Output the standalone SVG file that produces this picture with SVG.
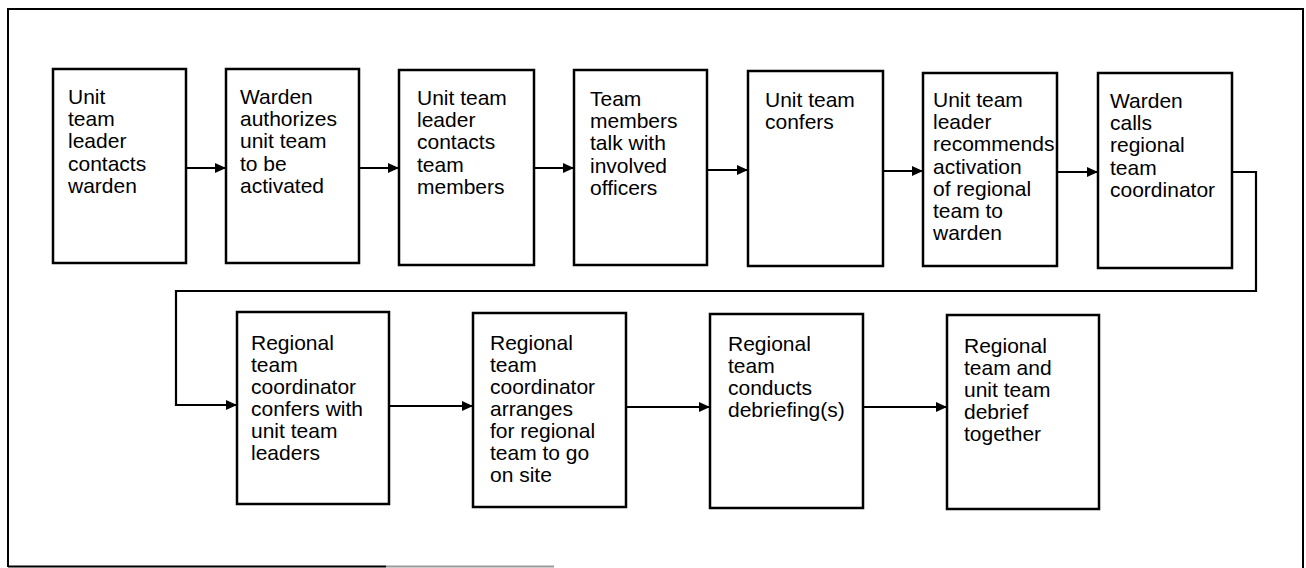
<svg xmlns="http://www.w3.org/2000/svg" width="1306" height="568" viewBox="0 0 1306 568">
<style>
  .box { fill: #fff; stroke: #000; stroke-width: 2.5; }
  .lbl { font-family: "Liberation Sans", Arial, Helvetica, sans-serif; font-size: 21px; fill: #000; }
  .conn { fill: none; stroke: #000; stroke-width: 2.2; }
  .frame { fill: none; stroke: #000; stroke-width: 2; }
</style>
<defs>
  <marker id="arr" markerUnits="userSpaceOnUse" markerWidth="11" markerHeight="10" refX="11" refY="5" orient="auto">
    <path d="M0,0 L11,5 L0,10 z" fill="#000"/>
  </marker>
</defs>
<rect width="1306" height="568" fill="#fff"/>
<g id="frame">
  <path class="frame" d="M8,567 V9 H1303 V568"/>
  <line x1="8" y1="566.5" x2="386" y2="566.5" stroke="#000" stroke-width="2"/>
  <line x1="386" y1="566.5" x2="554" y2="566.5" stroke="#999" stroke-width="2"/>
</g>
<g id="connectors">
  <path class="conn" d="M186,168 H226" marker-end="url(#arr)"/>
  <path class="conn" d="M359,168 H399" marker-end="url(#arr)"/>
  <path class="conn" d="M534,168 H574" marker-end="url(#arr)"/>
  <path class="conn" d="M707,170 H748" marker-end="url(#arr)"/>
  <path class="conn" d="M883,171 H923" marker-end="url(#arr)"/>
  <path class="conn" d="M1057,172 H1098" marker-end="url(#arr)"/>
  <path class="conn" d="M1232,172 H1256 V291 H176 V405 H237" marker-end="url(#arr)"/>
  <path class="conn" d="M389,406 H473" marker-end="url(#arr)"/>
  <path class="conn" d="M626,407 H710" marker-end="url(#arr)"/>
  <path class="conn" d="M863,407 H947" marker-end="url(#arr)"/>
</g>
<g id="n1">
  <rect class="box" x="53" y="69" width="133" height="194"/>
  <text class="lbl" x="68" y="104"><tspan x="68">Unit</tspan><tspan x="68" dy="22.2">team</tspan><tspan x="68" dy="22.2">leader</tspan><tspan x="68" dy="22.2">contacts</tspan><tspan x="68" dy="22.2">warden</tspan></text>
</g>
<g id="n2">
  <rect class="box" x="226" y="69" width="133" height="194"/>
  <text class="lbl" x="240" y="104"><tspan x="240">Warden</tspan><tspan x="240" dy="22.2">authorizes</tspan><tspan x="240" dy="22.2">unit team</tspan><tspan x="240" dy="22.2">to be</tspan><tspan x="240" dy="22.2">activated</tspan></text>
</g>
<g id="n3">
  <rect class="box" x="399" y="70" width="135" height="195"/>
  <text class="lbl" x="417" y="105"><tspan x="417">Unit team</tspan><tspan x="417" dy="22.2">leader</tspan><tspan x="417" dy="22.2">contacts</tspan><tspan x="417" dy="22.2">team</tspan><tspan x="417" dy="22.2">members</tspan></text>
</g>
<g id="n4">
  <rect class="box" x="574" y="70" width="133" height="195"/>
  <text class="lbl" x="590" y="106"><tspan x="590">Team</tspan><tspan x="590" dy="22.2">members</tspan><tspan x="590" dy="22.2">talk with</tspan><tspan x="590" dy="22.2">involved</tspan><tspan x="590" dy="22.2">officers</tspan></text>
</g>
<g id="n5">
  <rect class="box" x="748" y="71" width="135" height="195"/>
  <text class="lbl" x="765" y="107"><tspan x="765">Unit team</tspan><tspan x="765" dy="22.2">confers</tspan></text>
</g>
<g id="n6">
  <rect class="box" x="923" y="73" width="134" height="193"/>
  <text class="lbl" x="933" y="107"><tspan x="933">Unit team</tspan><tspan x="933" dy="22.2">leader</tspan><tspan x="933" dy="22.2">recommends</tspan><tspan x="933" dy="22.2">activation</tspan><tspan x="933" dy="22.2">of regional</tspan><tspan x="933" dy="22.2">team to</tspan><tspan x="933" dy="22.2">warden</tspan></text>
</g>
<g id="n7">
  <rect class="box" x="1098" y="73" width="134" height="195"/>
  <text class="lbl" x="1110" y="108"><tspan x="1110">Warden</tspan><tspan x="1110" dy="22.2">calls</tspan><tspan x="1110" dy="22.2">regional</tspan><tspan x="1110" dy="22.2">team</tspan><tspan x="1110" dy="22.2">coordinator</tspan></text>
</g>
<g id="n8">
  <rect class="box" x="237" y="312" width="152" height="192"/>
  <text class="lbl" x="251" y="350"><tspan x="251">Regional</tspan><tspan x="251" dy="22">team</tspan><tspan x="251" dy="22">coordinator</tspan><tspan x="251" dy="22">confers with</tspan><tspan x="251" dy="22">unit team</tspan><tspan x="251" dy="22">leaders</tspan></text>
</g>
<g id="n9">
  <rect class="box" x="473" y="313" width="153" height="194"/>
  <text class="lbl" x="490" y="350"><tspan x="490">Regional</tspan><tspan x="490" dy="22">team</tspan><tspan x="490" dy="22">coordinator</tspan><tspan x="490" dy="22">arranges</tspan><tspan x="490" dy="22">for regional</tspan><tspan x="490" dy="22">team to go</tspan><tspan x="490" dy="22">on site</tspan></text>
</g>
<g id="n10">
  <rect class="box" x="710" y="314" width="153" height="194"/>
  <text class="lbl" x="728" y="351"><tspan x="728">Regional</tspan><tspan x="728" dy="22">team</tspan><tspan x="728" dy="22">conducts</tspan><tspan x="728" dy="22">debriefing(s)</tspan></text>
</g>
<g id="n11">
  <rect class="box" x="947" y="315" width="152" height="194"/>
  <text class="lbl" x="964" y="353"><tspan x="964">Regional</tspan><tspan x="964" dy="22">team and</tspan><tspan x="964" dy="22">unit team</tspan><tspan x="964" dy="22">debrief</tspan><tspan x="964" dy="22">together</tspan></text>
</g>
</svg>
